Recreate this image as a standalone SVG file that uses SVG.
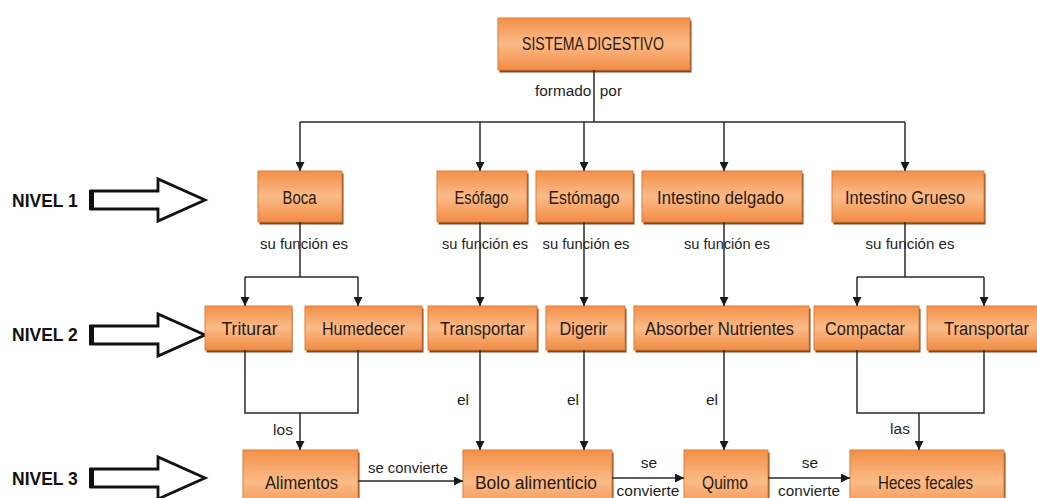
<svg xmlns="http://www.w3.org/2000/svg" width="1037" height="498" viewBox="0 0 1037 498">
<defs>
<linearGradient id="og" x1="0" y1="0" x2="0" y2="1">
<stop offset="0" stop-color="#F39049"/>
<stop offset="0.5" stop-color="#FABB88"/>
<stop offset="1" stop-color="#F28C44"/>
</linearGradient>
<marker id="ah" viewBox="0 0 10 10" refX="10" refY="5" markerWidth="10" markerHeight="9" markerUnits="userSpaceOnUse" orient="auto">
<path d="M0,0 L10,5 L0,10 z" fill="#1a1a1a"/>
</marker>
<style>
.sh{fill:#7E4A22;}
.box{fill:url(#og);stroke:#E07C34;stroke-width:1;}
.lbl{font-family:"Liberation Sans",Arial,sans-serif;font-size:18px;fill:#2A1A0E;text-anchor:middle;}
.lk{font-family:"Liberation Sans",Arial,sans-serif;font-size:15.5px;fill:#1E1E1E;text-anchor:middle;}
.ln{fill:none;stroke:#2A2A2A;stroke-width:1.5;}
.ar{fill:none;stroke:#2A2A2A;stroke-width:1.5;marker-end:url(#ah);}
.niv{font-family:"Liberation Sans",Arial,sans-serif;font-size:17.5px;font-weight:bold;fill:#111;}
.bk{fill:#fff;stroke:#111;stroke-width:2.8;stroke-linejoin:miter;}
</style>
</defs>
<rect width="1037" height="498" fill="#ffffff"/>

<g id="nivel1">
<polygon class="bk" points="91,191 158,191 158,179 205,200 158,221 158,209 91,209"/>
<rect x="89" y="190" width="5" height="20" fill="#111"/>
<text class="niv" x="12" y="207">NIVEL 1</text>
</g>
<g id="nivel2">
<polygon class="bk" points="91,326 158,326 158,314 205,335 158,356 158,344 91,344"/>
<rect x="89" y="325" width="5" height="20" fill="#111"/>
<text class="niv" x="12" y="341">NIVEL 2</text>
</g>
<g id="nivel3">
<polygon class="bk" points="91,469 158,469 158,457 205,478 158,499 158,487 91,487"/>
<rect x="89" y="468" width="5" height="20" fill="#111"/>
<text class="niv" x="12" y="485">NIVEL 3</text>
</g>

<g id="sistema">
<rect class="sh" x="499.5" y="20.5" width="192" height="52"/>
<rect class="box" x="498" y="18" width="192" height="52"/>
<text class="lbl" x="593" y="50" textLength="142" lengthAdjust="spacingAndGlyphs">SISTEMA DIGESTIVO</text>
</g>

<g id="boca"><rect class="sh" x="259.5" y="173.5" width="84" height="51"/><rect class="box" x="258" y="171" width="84" height="51"/><text class="lbl" x="299.5" y="203.5" textLength="34" lengthAdjust="spacingAndGlyphs">Boca</text></g>
<g id="esofago"><rect class="sh" x="438.5" y="173.5" width="90" height="51"/><rect class="box" x="437" y="171" width="90" height="51"/><text class="lbl" x="481.5" y="203.5" textLength="54" lengthAdjust="spacingAndGlyphs">Esófago</text></g>
<g id="estomago"><rect class="sh" x="537.5" y="173.5" width="97" height="51"/><rect class="box" x="536" y="171" width="97" height="51"/><text class="lbl" x="584" y="203.5" textLength="71" lengthAdjust="spacingAndGlyphs">Estómago</text></g>
<g id="intestino-delgado"><rect class="sh" x="643.5" y="173.5" width="160" height="51"/><rect class="box" x="642" y="171" width="160" height="51"/><text class="lbl" x="720.5" y="203.5" textLength="127" lengthAdjust="spacingAndGlyphs">Intestino delgado</text></g>
<g id="intestino-grueso"><rect class="sh" x="833.5" y="173.5" width="152" height="51"/><rect class="box" x="832" y="171" width="152" height="51"/><text class="lbl" x="905" y="203.5" textLength="120" lengthAdjust="spacingAndGlyphs">Intestino Grueso</text></g>

<g id="triturar"><rect class="sh" x="206.5" y="308.5" width="86" height="44"/><rect class="box" x="205" y="306" width="87" height="44"/><text class="lbl" x="249.5" y="335" textLength="56" lengthAdjust="spacingAndGlyphs">Triturar</text></g>
<g id="humedecer"><rect class="sh" x="306.5" y="308.5" width="117" height="44"/><rect class="box" x="305" y="306" width="117" height="44"/><text class="lbl" x="363.5" y="335" textLength="83" lengthAdjust="spacingAndGlyphs">Humedecer</text></g>
<g id="transportar1"><rect class="sh" x="429.5" y="308.5" width="109" height="44"/><rect class="box" x="428" y="306" width="109" height="44"/><text class="lbl" x="482.5" y="335" textLength="85" lengthAdjust="spacingAndGlyphs">Transportar</text></g>
<g id="digerir"><rect class="sh" x="547.5" y="308.5" width="79" height="44"/><rect class="box" x="546" y="306" width="79" height="44"/><text class="lbl" x="583.5" y="335" textLength="48" lengthAdjust="spacingAndGlyphs">Digerir</text></g>
<g id="absorber"><rect class="sh" x="635.5" y="308.5" width="175" height="44"/><rect class="box" x="634" y="306" width="175" height="44"/><text class="lbl" x="719.5" y="335" textLength="149" lengthAdjust="spacingAndGlyphs">Absorber Nutrientes</text></g>
<g id="compactar"><rect class="sh" x="815.5" y="308.5" width="105" height="44"/><rect class="box" x="814" y="306" width="105" height="44"/><text class="lbl" x="865" y="335" textLength="80" lengthAdjust="spacingAndGlyphs">Compactar</text></g>
<g id="transportar2"><rect class="sh" x="928.5" y="308.5" width="112" height="44"/><rect class="box" x="927" y="306" width="112" height="44"/><text class="lbl" x="986.5" y="335" textLength="85" lengthAdjust="spacingAndGlyphs">Transportar</text></g>

<g id="alimentos"><rect class="sh" x="244.5" y="452.5" width="115" height="64"/><rect class="box" x="243" y="450" width="115" height="64"/><text class="lbl" x="301.5" y="488.5" textLength="73" lengthAdjust="spacingAndGlyphs">Alimentos</text></g>
<g id="bolo"><rect class="sh" x="464.5" y="452.5" width="149" height="64"/><rect class="box" x="463" y="450" width="149" height="64"/><text class="lbl" x="536" y="488.5" textLength="122" lengthAdjust="spacingAndGlyphs">Bolo alimenticio</text></g>
<g id="quimo"><rect class="sh" x="685.5" y="452.5" width="84" height="64"/><rect class="box" x="684" y="450" width="84" height="64"/><text class="lbl" x="725" y="488.5" textLength="46" lengthAdjust="spacingAndGlyphs">Quimo</text></g>
<g id="heces"><rect class="sh" x="851.5" y="452.5" width="154" height="64"/><rect class="box" x="850" y="450" width="154" height="64"/><text class="lbl" x="925.5" y="488.5" textLength="95" lengthAdjust="spacingAndGlyphs">Heces fecales</text></g>

<g id="labels">
<text class="lk" x="578.5" y="95.5" textLength="87" lengthAdjust="spacingAndGlyphs" xml:space="preserve">formado  por</text>
<text class="lk" x="304" y="248.5" textLength="88" lengthAdjust="spacingAndGlyphs">su función es</text>
<text class="lk" x="485" y="248.5" textLength="86" lengthAdjust="spacingAndGlyphs">su función es</text>
<text class="lk" x="586" y="248.5" textLength="87" lengthAdjust="spacingAndGlyphs">su función es</text>
<text class="lk" x="727" y="248.5" textLength="86" lengthAdjust="spacingAndGlyphs">su función es</text>
<text class="lk" x="910" y="248.5" textLength="89" lengthAdjust="spacingAndGlyphs">su función es</text>
<text class="lk" x="283" y="435">los</text>
<text class="lk" x="463" y="405">el</text>
<text class="lk" x="573" y="405">el</text>
<text class="lk" x="712" y="405">el</text>
<text class="lk" x="900" y="434">las</text>
<text class="lk" x="408" y="473" textLength="80" lengthAdjust="spacingAndGlyphs">se convierte</text>
<text class="lk" x="649" y="468">se</text>
<text class="lk" x="648" y="496" textLength="63" lengthAdjust="spacingAndGlyphs">convierte</text>
<text class="lk" x="810" y="468">se</text>
<text class="lk" x="809" y="496" textLength="62" lengthAdjust="spacingAndGlyphs">convierte</text>
</g>

<g id="connectors">
<path class="ln" d="M594,70 V122 M300,122 H905"/>
<path class="ar" d="M300,122 V171"/>
<path class="ar" d="M480,122 V171"/>
<path class="ar" d="M584,122 V171"/>
<path class="ar" d="M724,122 V171"/>
<path class="ar" d="M905,122 V171"/>
<path class="ln" d="M300,222 V277 M245,277 H358"/>
<path class="ar" d="M245,277 V306"/>
<path class="ar" d="M358,277 V306"/>
<path class="ar" d="M480,222 V306"/>
<path class="ar" d="M584,222 V306"/>
<path class="ar" d="M724,222 V306"/>
<path class="ln" d="M905,222 V277 M857,277 H984"/>
<path class="ar" d="M857,277 V306"/>
<path class="ar" d="M984,277 V306"/>
<path class="ln" d="M245,350 V413 H358 V350"/>
<path class="ar" d="M300,413 V450"/>
<path class="ar" d="M480,350 V450"/>
<path class="ar" d="M584,350 V450"/>
<path class="ar" d="M724,350 V450"/>
<path class="ln" d="M857,350 V413 H984 V350"/>
<path class="ar" d="M919,413 V450"/>
<path class="ar" d="M358,481 H463"/>
<path class="ar" d="M612,478 H684"/>
<path class="ar" d="M768,478 H850"/>
</g>
</svg>
